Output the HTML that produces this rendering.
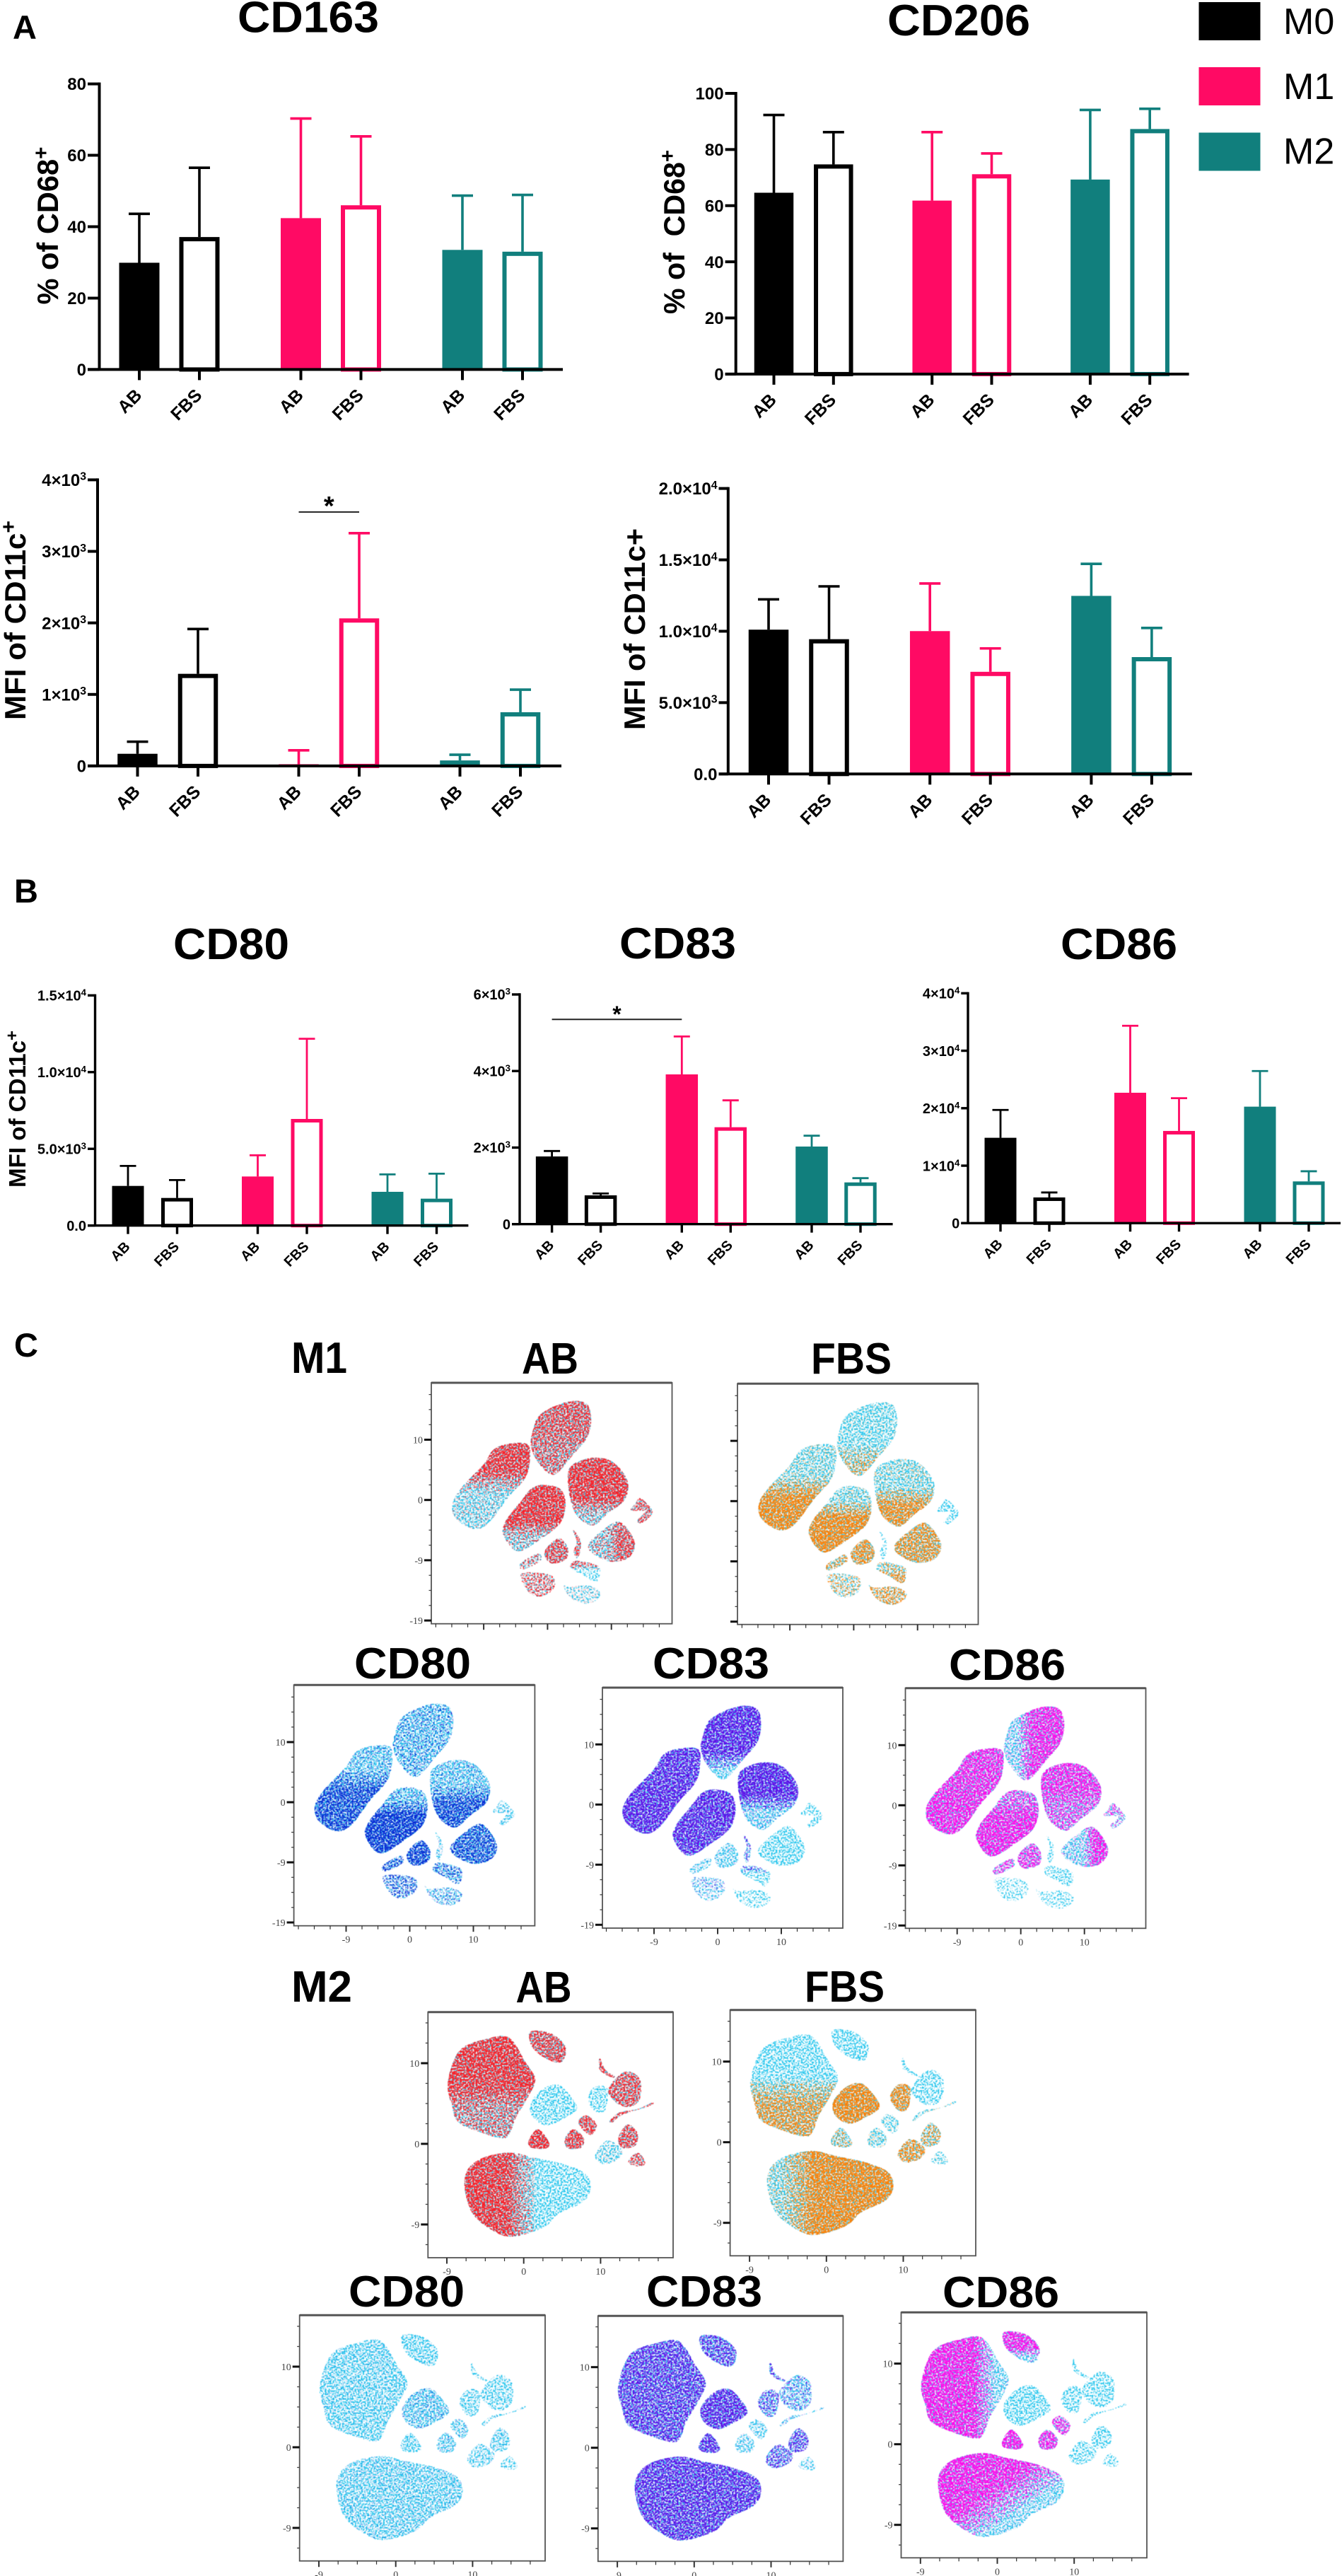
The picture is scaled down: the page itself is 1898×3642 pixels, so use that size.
<!DOCTYPE html>
<html lang="en">
<head>
<meta charset="utf-8">
<title>Macrophage marker expression, AB vs FBS</title>
<style>
html,body{margin:0;padding:0;background:#fff}
svg{display:block}
text{font-family:"Liberation Sans",Arial,sans-serif}
.big{font-weight:700;font-size:62px;fill:#000}
.letter{font-weight:700;font-size:47px;fill:#000}
.ytitle{font-weight:700;fill:#000}
.legend-label{font-size:52px;fill:#000}
</style>
</head>
<body>
<svg id="figure" xmlns="http://www.w3.org/2000/svg" width="1898" height="3642" viewBox="0 0 1898 3642">
<defs></defs>
<rect x="0" y="0" width="1898" height="3642" fill="#fff"/>

<text class="letter" x="18" y="55">A</text>
<text class="letter" x="20" y="1276">B</text>
<text class="letter" x="20" y="1918">C</text>

<text class="big" x="336" y="45.5" textLength="200" lengthAdjust="spacingAndGlyphs">CD163</text>
<text class="big" x="1255" y="50" textLength="202" lengthAdjust="spacingAndGlyphs">CD206</text>
<text class="big" x="245" y="1356" textLength="164" lengthAdjust="spacingAndGlyphs">CD80</text>
<text class="big" x="876" y="1355" textLength="165" lengthAdjust="spacingAndGlyphs">CD83</text>
<text class="big" x="1500" y="1356" textLength="165" lengthAdjust="spacingAndGlyphs">CD86</text>

<g>
<rect x="1695.5" y="3" width="87" height="54" fill="#000"/>
<rect x="1695.5" y="95" width="87" height="54" fill="#ff0a64"/>
<rect x="1695.5" y="187.5" width="87" height="54" fill="#117f7d"/>
<text class="legend-label" x="1815" y="48">M0</text>
<text class="legend-label" x="1815" y="140">M1</text>
<text class="legend-label" x="1815" y="231.5">M2</text>
</g>

<text class="ytitle" font-size="42" transform="translate(82,430.5) rotate(-90)" textLength="223" lengthAdjust="spacingAndGlyphs">% of CD68<tspan dy="-14" font-size="30">+</tspan></text>
<text class="ytitle" font-size="42" transform="translate(968,444) rotate(-90)" textLength="232" lengthAdjust="spacingAndGlyphs">% of &#160;CD68<tspan dy="-14" font-size="30">+</tspan></text>
<text class="ytitle" font-size="42" transform="translate(36,1018) rotate(-90)" textLength="282" lengthAdjust="spacingAndGlyphs">MFI of CD11c<tspan dy="-14" font-size="30">+</tspan></text>
<text class="ytitle" font-size="42" transform="translate(912,1032) rotate(-90)" textLength="285" lengthAdjust="spacingAndGlyphs">MFI of CD11c+</text>
<text class="ytitle" font-size="33" transform="translate(36,1679) rotate(-90)" textLength="222" lengthAdjust="spacingAndGlyphs">MFI of CD11c<tspan dy="-11" font-size="24">+</tspan></text>

<text class="big" x="412" y="1941" textLength="79" lengthAdjust="spacingAndGlyphs">M1</text>
<text class="big" x="738" y="1942" textLength="80" lengthAdjust="spacingAndGlyphs">AB</text>
<text class="big" x="1147" y="1942" textLength="114" lengthAdjust="spacingAndGlyphs">FBS</text>
<text class="big" x="501" y="2373" textLength="165" lengthAdjust="spacingAndGlyphs">CD80</text>
<text class="big" x="923" y="2373" textLength="165" lengthAdjust="spacingAndGlyphs">CD83</text>
<text class="big" x="1342" y="2375" textLength="165" lengthAdjust="spacingAndGlyphs">CD86</text>
<text class="big" x="412" y="2830" textLength="86" lengthAdjust="spacingAndGlyphs">M2</text>
<text class="big" x="729.5" y="2831" textLength="79" lengthAdjust="spacingAndGlyphs">AB</text>
<text class="big" x="1138" y="2830" textLength="113" lengthAdjust="spacingAndGlyphs">FBS</text>
<text class="big" x="493" y="3261" textLength="164" lengthAdjust="spacingAndGlyphs">CD80</text>
<text class="big" x="914" y="3261" textLength="164" lengthAdjust="spacingAndGlyphs">CD83</text>
<text class="big" x="1333" y="3262" textLength="165" lengthAdjust="spacingAndGlyphs">CD86</text>
</svg>

<script>
// ---------- bar chart data ----------
const categories = ["AB","FBS","AB","FBS","AB","FBS"];

const cd163Means = [29.9,37.1,42.4,46,33.5,33];
const cd163Upper = [43.6,56.5,70.3,65.3,48.7,48.9];
const cd163Ticks = [0,20,40,60,80];
const cd163Labels = ["0","20","40","60","80"];

const cd206Means = [64.6,74.7,61.8,71.2,69.3,87.3];
const cd206Upper = [92.3,86.2,86.2,78.6,94.1,94.5];
const cd206Ticks = [0,20,40,60,80,100];
const cd206Labels = ["0","20","40","60","80","100"];

const cd11cLeftMeans = [170,1288,24,2063,77,751];
const cd11cLeftUpper = [339,1914,218,3254,157,1066];
const cd11cLeftTicks = [0,1000,2000,3000,4000];
const cd11cLeftLabels = ["0","1×10^3","2×10^3","3×10^3","4×10^3"];

const cd11cRightMeans = [10110,9443,10009,7158,12476,8189];
const cd11cRightUpper = [12233,13143,13345,8796,14720,10231];
const cd11cRightTicks = [0,5000,10000,15000,20000];
const cd11cRightLabels = ["0.0","5.0×10^3","1.0×10^4","1.5×10^4","2.0×10^4"];

const cd80Means = [2582,1798,3197,6947,2198,1752];
const cd80Upper = [3888,2966,4580,12173,3335,3381];
const cd80Ticks = [0,5000,10000,15000];
const cd80Labels = ["0.0","5.0×10^3","1.0×10^4","1.5×10^4"];

const cd83Means = [1768,752,3912,2532,2027,1090];
const cd83Upper = [1910,801,4903,3234,2310,1201];
const cd83Ticks = [0,2000,4000,6000];
const cd83Labels = ["0","2×10^3","4×10^3","6×10^3"];

const cd86Means = [14853,4472,22690,16043,20269,7262];
const cd86Upper = [19694,5334,34342,21746,26464,9027];
const cd86Ticks = [0,10000,20000,30000,40000];
const cd86Labels = ["0","1×10^4","2×10^4","3×10^4","4×10^4"];

// ---------- t-SNE cluster data (outlines in t-SNE axis units) ----------
const m1Clusters = [
[[2.8,16.2],[5.9,16.1],[6.8,13.8],[6.3,10.6],[4,7.5],[1,4.2],[-1.5,6.3],[-2.6,9.1],[-2.3,11.4],[-1.1,14.2]],
[[-6.1,9.3],[-3,9.1],[-2.9,5.6],[-3.8,3.2],[-6.1,.5],[-9.2,-3.8],[-11.6,-4.8],[-14.3,-3.1],[-14.9,-.7],[-13.5,2],[-10,5.9],[-8.5,8.3]],
[[7.1,7],[10.2,6.3],[12.5,3.2],[12.1,.1],[9.4,-2.3],[7.1,-4.2],[4.7,-2.7],[3.6,.1],[3.2,4],[4,5.9]],
[[-.7,2.5],[2,1.8],[2.8,-.7],[2,-3.8],[-.7,-6.2],[-4.6,-8.5],[-6.9,-5.8],[-6.5,-3.4],[-4.2,-.3],[-2.6,1.8]],
[[11,-3.6],[12.9,-5.4],[13.7,-7.7],[12.5,-9.7],[9.8,-10.2],[7.1,-8.9],[6.4,-7.4],[8.2,-5.4]],
[[2,-6.4],[3.2,-8.1],[2.8,-9.9],[.5,-10.5],[-.5,-8.9],[.5,-7.2]],
[[14.5,.3],[16,-1.1],[16.4,-2.3],[14.8,-3.8],[14.1,-3.4],[15.2,-1.9],[13.1,-1.7],[13.7,-.7]],
[[4,-5],[5.1,-6.6],[5.1,-8.5],[4.6,-9.7],[4.1,-8.5],[4.6,-7]],
[[-1.5,-8.9],[-1.1,-10.1],[-3.8,-11.5],[-4.2,-10.5]],
[[4.4,-10.1],[7.8,-10.9],[8.2,-12.4],[7.5,-13.6],[5.5,-12.4],[3.6,-11.3]],
[[-4.2,-12.4],[-1.5,-12.1],[.9,-12.8],[.9,-14.8],[-1.1,-16],[-3,-15.2]],
[[3.2,-14.4],[6.3,-14.2],[8.2,-15.2],[7.8,-16.5],[5.9,-17.2],[3.6,-16.2],[2.4,-14]]
];
const m1Density = [1,1,1,1,1,.95,.8,.75,.8,.8,.6,.65];

const m2Clusters = [
[[-5.2,12.9],[-2,13.2],[.3,10],[1.5,8],[.6,5.9],[-1,3.3],[-1.7,1.5],[-2.6,.7],[-5.2,1.3],[-8.5,2.7],[-9.4,5],[-9.9,7.3],[-9.1,10.3],[-7.8,12]],
[[.9,13.9],[3.5,13.7],[5.4,12.1],[5.1,10.3],[3.8,10.2],[1.9,11.2],[.9,12.4]],
[[2.5,6.8],[4.5,7.3],[6.1,5.9],[6.9,4.3],[5.1,3.1],[3,2.3],[1.2,3.3],[.9,5]],
[[9.3,7.1],[10.9,6.8],[10.6,4.2],[9.3,4],[8.3,5.6]],
[[13.5,9],[15.1,8],[15.1,5.6],[13.8,4.6],[12.2,5],[11,6.5],[11.9,8]],
[[9.9,10.6],[10.6,9.2],[11.9,8.3],[11.3,8.3],[9.9,9.2]],
[[1.9,1.8],[3.3,.1],[2.8,-.6],[.9,-.4],[.7,.5]],
[[6.5,1.8],[7.8,.7],[7.4,-.5],[5.7,-.5],[5.4,.7]],
[[8.3,3.5],[9.5,2.3],[8.7,1.1],[7.4,2.1],[7.2,3]],
[[10.9,.4],[12.8,-.8],[12.2,-2],[10.3,-2.5],[9.3,-1.4]],
[[13.5,2.4],[14.8,1.3],[14.5,-.2],[12.8,-.5],[12.3,.7]],
[[14.8,-1.1],[15.8,-2.3],[15.1,-2.8],[13.6,-2.3]],
[[16.7,5.1],[16.4,4.7],[12.8,3.6],[11.6,2.7],[11.2,2.9],[12.5,3.9],[14.8,4.3]],
[[-1.7,-1.1],[1.2,-1.7],[5.1,-2.5],[8,-3.7],[8.7,-5.5],[7.7,-7.2],[4.5,-8.7],[2.5,-10.4],[-1.7,-11.5],[-4.6,-10.4],[-6.8,-8.4],[-7.7,-5.2],[-7.2,-3.1],[-5.2,-1.7]]
];
const m2Density = [1,1,1,.9,.9,.9,1,.9,.85,.85,.9,.7,.8,1];

// marker-positive share per cluster: [share at start, share at end, split position, direction code]
const m1AbShares = [[.8,.65,.5,0],[.98,.1,.45,0],[1,.2,.72,0],[1,.2,.68,0],[.3,.8,.55,1],[.8,.8,.5,0],[.85,.85,.5,0],[.9,.9,.5,0],[.5,.5,.5,0],[.8,0,.3,0],[.85,.85,.5,0],[.1,.1,.5,0]];
const m1FbsShares = [[.05,.4,.7,0],[.1,1,.5,0],[.1,.9,.55,0],[.1,1,.35,0],[.75,.75,.5,0],[.85,.85,.5,0],[0,0,.5,0],[0,0,.5,0],[.6,.6,.5,0],[.3,.95,.5,0],[.4,.4,.5,0],[.9,.9,.5,0]];
const m1Cd80Shares = [[.2,.2,.5,0],[.15,.85,.4,0],[.15,.85,.5,0],[.2,1,.3,0],[.75,.75,.5,0],[.9,.9,.5,0],[.05,.05,.5,0],[.1,.1,.5,0],[.75,.75,.5,0],[.5,.5,.5,0],[.75,.75,.5,0],[.25,.25,.5,0]];
const m1Cd83Shares = [[.95,.05,.75,0],[.9,.95,.5,0],[1,.1,.6,0],[.95,.9,.5,0],[0,0,.5,0],[.05,.05,.5,0],[0,0,.5,0],[.6,.3,.5,0],[.05,.05,.5,0],[.3,0,.3,0],[.2,.1,.5,0],[0,0,.5,0]];
const m1Cd86Shares = [[.1,.95,.35,1],[.9,.95,.5,0],[.9,.65,.5,0],[.65,1,.3,0],[.1,.95,.6,1],[.8,.8,.5,0],[.6,.2,.5,0],[0,0,.5,0],[.75,.75,.5,0],[0,0,.5,0],[0,0,.5,0],[0,0,.5,0]];

const m2AbShares = [[1,.55,.6,0],[.8,.8,.5,0],[0,0,.5,0],[0,0,.5,0],[.85,.85,.5,0],[.95,.95,.5,0],[1,1,.5,0],[.95,.95,.5,0],[.95,.95,.5,0],[.05,.05,.5,0],[.85,.85,.5,0],[.95,.95,.5,0],[.95,.95,.5,0],[1,0,.45,1]];
const m2FbsShares = [[0,.75,.55,0],[0,0,.5,0],[1,1,.5,0],[.95,.95,.5,0],[0,0,.5,0],[0,0,.5,0],[.3,.3,.5,0],[.1,.1,.5,0],[.05,.05,.5,0],[.85,.85,.5,0],[.5,.5,.5,0],[.05,.05,.5,0],[.1,.1,.5,0],[.15,1,.25,1]];
const m2Cd80Shares = [[.05,.05,.5,0],[.03,.03,.5,0],[.12,.12,.5,0],[.03,.03,.5,0],[.03,.03,.5,0],[.02,.02,.5,0],[.03,.03,.5,0],[.1,.1,.5,0],[.1,.1,.5,0],[.05,.05,.5,0],[.05,.05,.5,0],[.03,.03,.5,0],[.03,.03,.5,0],[.07,.07,.5,0]];
const m2Cd83Shares = [[.78,.78,.5,0],[.65,.65,.5,0],[.88,.88,.5,0],[.5,.5,.5,0],[.2,.2,.5,0],[.5,.5,.5,0],[.85,.85,.5,0],[.05,.05,.5,0],[.05,.05,.5,0],[.65,.65,.5,0],[.7,.7,.5,0],[.05,.05,.5,0],[.1,.1,.5,0],[.85,.85,.5,0]];
const m2Cd86Shares = [[1,.05,.72,1],[.95,.1,.65,0],[0,0,.5,0],[0,0,.5,0],[0,0,.5,0],[0,0,.5,0],[1,1,.5,0],[.95,.95,.5,0],[.85,.85,.5,0],[0,0,.5,0],[0,0,.5,0],[0,0,.5,0],[0,0,.5,0],[1,.05,.55,2]];

const tsneXTicks = [-10,0,10];
const tsneXLabels = ["-9","0","10"];
const m1YTicks = [10,0,-10,-20];
const m1YLabels = ["10","0","-9","-19"];
const m2YTicks = [10,0,-10];
const m2YLabels = ["10","0","-9"];

// ---------- drawing ----------
const NS = "http://www.w3.org/2000/svg";
const fig = document.getElementById("figure");
const defs = fig.querySelector("defs");
const GROUP_COLORS = ["#000000","#000000","#ff0a64","#ff0a64","#117f7d","#117f7d"];
const POSITIVE_MAX = 0.74, NEGATIVE_COVER = 0.48;

function mk(tag, attrs, parent) {
  const el = document.createElementNS(NS, tag);
  for (const k in attrs) el.setAttribute(k, attrs[k]);
  parent.appendChild(el);
  return el;
}

// Dithers a layer: the alpha of the source picks how many speckles survive.
function makeSpeck(id, color, seed, matrix) {
  const f = mk("filter", {id: id, x: "-5%", y: "-5%", width: "110%", height: "110%", "color-interpolation-filters": "sRGB"}, defs);
  mk("feTurbulence", {type: "fractalNoise", baseFrequency: "0.45", numOctaves: 2, seed: seed, result: "t"}, f);
  mk("feColorMatrix", {in: "t", type: "matrix", values: "0 0 0 0 0 0 0 0 0 0 0 0 0 0 0 " + matrix, result: "n"}, f);
  mk("feComposite", {in: "SourceAlpha", in2: "n", operator: "arithmetic", k1: 0, k2: 1, k3: 1, k4: -1, result: "sum"}, f);
  const ct = mk("feComponentTransfer", {in: "sum", result: "mask"}, f);
  mk("feFuncA", {type: "linear", slope: 7}, ct);
  mk("feFlood", {"flood-color": color, result: "c"}, f);
  mk("feComposite", {in: "c", in2: "mask", operator: "in", result: "dots"}, f);
  mk("feGaussianBlur", {in: "dots", stdDeviation: 0.4}, f);
}
makeSpeck("speck-cyan", "#1cc3ec", 4, "0 3.4 0 0 -1.2");
makeSpeck("speck-red", "#f81f27", 11, "3.4 0 0 0 -1.2");
makeSpeck("speck-orange", "#fb8005", 11, "3.4 0 0 0 -1.2");
makeSpeck("speck-blue", "#0429d4", 11, "3.4 0 0 0 -1.2");
makeSpeck("speck-purple", "#5a0ce8", 11, "3.4 0 0 0 -1.2");
makeSpeck("speck-magenta", "#ff08ea", 11, "3.4 0 0 0 -1.2");

function drawBarChart(cfg, means, upper, ticks, labels) {
  const root = mk("g", {}, fig);
  
  
  const y = v => cfg.yBase - v / ticks[ticks.length - 1] * (cfg.yBase - cfg.yTop);
  const x = i => cfg.x0 + (i % 2) * cfg.gap + Math.floor(i / 2) * cfg.step;
  means.forEach((m, i) => {
    const color = GROUP_COLORS[i], c = x(i);
    const stem = mk("line", {x1: c, x2: c, y1: y(m), y2: y(upper[i]), stroke: color, "stroke-width": cfg.errW}, root);
    
    
    const cap = mk("line", {x1: c - cfg.capW / 2, x2: c + cfg.capW / 2, y1: y(upper[i]), y2: y(upper[i]), stroke: color, "stroke-width": cfg.errW}, root);
    
    
    const s = cfg.outline;
    const bar = (i % 2 === 0)
      ? mk("rect", {x: c - cfg.barW / 2, y: y(m), width: cfg.barW, height: Math.max(cfg.yBase - y(m), 0), fill: color}, root)
      : mk("rect", {x: c - cfg.barW / 2 + s / 2, y: y(m) + s / 2, width: cfg.barW - s, height: Math.max(cfg.yBase - y(m) - s / 2, 0), fill: "#fff", stroke: color, "stroke-width": s}, root);
    
    
    const tick = mk("line", {x1: c, x2: c, y1: cfg.yBase, y2: cfg.yBase + cfg.tickLen, stroke: "#000", "stroke-width": cfg.axisW}, root);
    
    
    const tx = c + cfg.catDx, ty = cfg.yBase + cfg.catDy;
    const lab = mk("text", {x: tx, y: ty, "text-anchor": "end", "font-size": cfg.catFont, "font-weight": 700, transform: "rotate(-45 " + tx + " " + ty + ")"}, root);
    lab.textContent = categories[i];
    
    
  });
  const xAxis = mk("line", {x1: cfg.left, x2: cfg.right, y1: cfg.yBase, y2: cfg.yBase, stroke: "#000", "stroke-width": cfg.axisW}, root);
  
  
  const yAxis = mk("line", {x1: cfg.axisX, x2: cfg.axisX, y1: cfg.yTop - cfg.axisW / 2, y2: cfg.yBase, stroke: "#000", "stroke-width": cfg.axisW}, root);
  
  
  ticks.forEach((t, i) => {
    const tick = mk("line", {x1: cfg.left, x2: cfg.axisX, y1: y(t), y2: y(t), stroke: "#000", "stroke-width": cfg.axisW}, root);
    
    
    const parts = labels[i].split("^");
    const lab = mk("text", {x: cfg.left - 2, y: y(t) + cfg.labFont * 0.36, "text-anchor": "end", "font-size": cfg.labFont, "font-weight": 700}, root);
    
    
    const main = mk("tspan", {}, lab);
    main.textContent = parts[0];
    if (parts[1]) {
      const sup = mk("tspan", {dy: -cfg.labFont * 0.35, "font-size": cfg.labFont * 0.66}, lab);
      sup.textContent = parts[1];
    }
  });
  return {x, y, root};
}

function drawSignificance(chart, i, j, level, starBaseline, fontSize) {
  const a = chart.x(i), b = chart.x(j), yy = chart.y(level);
  const line = mk("line", {x1: a, x2: b, y1: yy, y2: yy, stroke: "#222", "stroke-width": 2}, chart.root);
  
  
  const star = mk("text", {x: (a + b) / 2, y: yy + starBaseline, "text-anchor": "middle", "font-size": fontSize, "font-weight": 700}, chart.root);
  star.textContent = "*";
  
  
}

const big = {barW: 57, outline: 6, errW: 3.6, capW: 30, axisW: 4, tickLen: 15, catDx: 5, catDy: 38, catFont: 25, labFont: 24};
const small = {barW: 45, outline: 5, errW: 2.8, capW: 23, axisW: 3.4, tickLen: 12, catDx: 4, catDy: 31, catFont: 20, labFont: 20};

drawBarChart(Object.assign({}, big, {x0: 197, gap: 85, step: 228.5, yBase: 522.4, yTop: 118.6, axisX: 140.5, left: 124, right: 796}), cd163Means, cd163Upper, cd163Ticks, cd163Labels);
drawBarChart(Object.assign({}, big, {x0: 1094.5, gap: 84.3, step: 223.7, barW: 55.5, yBase: 528.9, yTop: 132, axisX: 1040.7, left: 1025.6, right: 1681.6}), cd206Means, cd206Upper, cd206Ticks, cd206Labels);
const cd11cLeft = drawBarChart(Object.assign({}, big, {x0: 194.5, gap: 85.5, step: 228, barW: 56.5, yBase: 1082.9, yTop: 678.4, axisX: 138, left: 124, right: 794}), cd11cLeftMeans, cd11cLeftUpper, cd11cLeftTicks, cd11cLeftLabels);
drawSignificance(cd11cLeft, 2, 3, 3550, 4, 38);
drawBarChart(Object.assign({}, big, {x0: 1087, gap: 85.5, step: 228.2, barW: 56.5, yBase: 1094.3, yTop: 690.6, axisX: 1029.8, left: 1016.5, right: 1685.8}), cd11cRightMeans, cd11cRightUpper, cd11cRightTicks, cd11cRightLabels);
drawBarChart(Object.assign({}, small, {x0: 181, gap: 69.5, step: 183.5, yBase: 1732.7, yTop: 1407.3, axisX: 134.5, left: 124, right: 662.4}), cd80Means, cd80Upper, cd80Ticks, cd80Labels);
const cd83Chart = drawBarChart(Object.assign({}, small, {x0: 780.6, gap: 69, step: 183.7, barW: 45.5, yBase: 1730.7, yTop: 1406, axisX: 735, left: 724, right: 1262.6}), cd83Means, cd83Upper, cd83Ticks, cd83Labels);
drawSignificance(cd83Chart, 0, 2, 5348, 3.5, 32);
drawBarChart(Object.assign({}, small, {x0: 1415, gap: 69, step: 183.5, yBase: 1729.3, yTop: 1404.3, axisX: 1369, left: 1359.3, right: 1896}), cd86Means, cd86Upper, cd86Ticks, cd86Labels);

function smoothPath(pts) {
  const n = pts.length;
  let d = "M" + pts[0][0].toFixed(1) + " " + pts[0][1].toFixed(1);
  for (let i = 0; i < n; i++) {
    const p0 = pts[(i - 1 + n) % n], p1 = pts[i], p2 = pts[(i + 1) % n], p3 = pts[(i + 2) % n];
    d += "C" + (p1[0] + (p2[0] - p0[0]) / 6).toFixed(1) + " " + (p1[1] + (p2[1] - p0[1]) / 6).toFixed(1) + " "
       + (p2[0] - (p3[0] - p1[0]) / 6).toFixed(1) + " " + (p2[1] - (p3[1] - p1[1]) / 6).toFixed(1) + " "
       + p2[0].toFixed(1) + " " + p2[1].toFixed(1);
  }
  return d + "Z";
}

let gradCount = 0;
function drawScatter(p, clusters, density, shares, speckId, color, yTicks, yLabels, showX, showY) {
  const root = mk("g", {}, fig);
  
  
  const x = u => p.x0 + u * p.sx;
  const y = u => p.y0 - u * p.sy;
  const baseLayer = mk("g", {filter: "url(#speck-cyan)"}, root);
  
  
  const posLayer = mk("g", {filter: "url(#" + speckId + ")"}, root);
  
  
  const dirs = [[0,0,0,1],[0,0,1,0],[0,0,1,1],[1,0,0,1]];
  clusters.forEach((outline, i) => {
    const d = smoothPath(outline.map(v => [x(v[0]), y(v[1])]));
    const negative = mk("path", {d: d, fill: "#000", "fill-opacity": NEGATIVE_COVER * density[i]}, baseLayer);
    
    
    const s = shares[i], dir = dirs[s[3]], id = "g" + (gradCount++);
    const grad = mk("linearGradient", {id: id, x1: dir[0], y1: dir[1], x2: dir[2], y2: dir[3]}, defs);
    [[0, s[0]], [Math.max(s[2] - .12, 0), s[0]], [Math.min(s[2] + .12, 1), s[1]], [1, s[1]]].forEach(st => {
      mk("stop", {offset: st[0], "stop-color": color, "stop-opacity": st[1] * POSITIVE_MAX}, grad);
    });
    const positive = mk("path", {d: d, fill: "url(#" + id + ")", "fill-opacity": density[i]}, posLayer);
    
    
  });
  const frame = mk("rect", {x: p.left, y: p.top, width: p.right - p.left, height: p.bottom - p.top, fill: "none", stroke: "#555", "stroke-width": 1.8}, root);
  
  
  const topEdge = mk("line", {x1: p.left, x2: p.right, y1: p.top, y2: p.top, stroke: "#555", "stroke-width": 3}, root);
  
  
  for (let u = -40; u <= 40; u += 2.5) {
    const xx = x(u), major = u % 10 === 0;
    if (xx > p.left + 2 && xx < p.right - 2 && (major ? tsneXTicks.includes(u) : true)) {
      const t = mk("line", {x1: xx, x2: xx, y1: p.bottom, y2: p.bottom + (major ? 8.5 : 5), stroke: "#333", "stroke-width": major ? 2 : 1.2}, root);
      
      
    }
    const yy = y(u);
    if (yy > p.top + 12 && yy < p.bottom - 2) {
      const isMajor = major && yTicks.includes(u);
      const t = mk("line", {x1: p.left - (isMajor ? 10 : 3.5), x2: p.left, y1: yy, y2: yy, stroke: isMajor ? "#111" : "#444", "stroke-width": isMajor ? 3 : 1.3}, root);
      
      
    }
  }
  if (showX) tsneXTicks.forEach((u, i) => {
    const lab = mk("text", {x: x(u), y: p.bottom + 24, "text-anchor": "middle", "font-size": 14, fill: "#444", style: "font-family:'Liberation Serif',serif"}, root);
    lab.textContent = tsneXLabels[i];
    
    
  });
  if (showY) yTicks.forEach((u, i) => {
    const lab = mk("text", {x: p.left - 12, y: y(u) + 5, "text-anchor": "end", "font-size": 14, fill: "#444", style: "font-family:'Liberation Serif',serif"}, root);
    lab.textContent = yLabels[i];
    
    
  });
}

drawScatter({left: 610, right: 950.5, top: 1955, bottom: 2295.7, x0: 774.4, y0: 2120.7, sx: 9.03, sy: 8.52}, m1Clusters, m1Density, m1AbShares, "speck-red", "#000", m1YTicks, m1YLabels, false, true);
drawScatter({left: 1043, right: 1383.5, top: 1956.3, bottom: 2296.7, x0: 1207.4, y0: 2122.3, sx: 9.03, sy: 8.52}, m1Clusters, m1Density, m1FbsShares, "speck-orange", "#000", m1YTicks, m1YLabels, false, false);
drawScatter({left: 415.6, right: 756.4, top: 2382.3, bottom: 2722.7, x0: 579.5, y0: 2548, sx: 9, sy: 8.5}, m1Clusters, m1Density, m1Cd80Shares, "speck-blue", "#000", m1YTicks, m1YLabels, true, true);
drawScatter({left: 852, right: 1192, top: 2386, bottom: 2726, x0: 1015, y0: 2551.3, sx: 9, sy: 8.5}, m1Clusters, m1Density, m1Cd83Shares, "speck-purple", "#000", m1YTicks, m1YLabels, true, true);
drawScatter({left: 1280.5, right: 1620.5, top: 2386.7, bottom: 2726.3, x0: 1443.7, y0: 2552.3, sx: 9, sy: 8.5}, m1Clusters, m1Density, m1Cd86Shares, "speck-magenta", "#000", m1YTicks, m1YLabels, true, true);

drawScatter({left: 605.3, right: 952, top: 2844.7, bottom: 3192, x0: 740.7, y0: 3031, sx: 10.87, sy: 11.4}, m2Clusters, m2Density, m2AbShares, "speck-red", "#000", m2YTicks, m2YLabels, true, true);
drawScatter({left: 1032.6, right: 1380, top: 2841.7, bottom: 3189.3, x0: 1168.8, y0: 3028.7, sx: 10.87, sy: 11.4}, m2Clusters, m2Density, m2FbsShares, "speck-orange", "#000", m2YTicks, m2YLabels, true, true);
drawScatter({left: 423.7, right: 771, top: 3273.3, bottom: 3620.7, x0: 559.7, y0: 3460, sx: 10.87, sy: 11.4}, m2Clusters, m2Density, m2Cd80Shares, "speck-blue", "#000", m2YTicks, m2YLabels, true, true);
drawScatter({left: 845.8, right: 1192.4, top: 3274.3, bottom: 3621.3, x0: 981.8, y0: 3460.7, sx: 10.87, sy: 11.4}, m2Clusters, m2Density, m2Cd83Shares, "speck-purple", "#000", m2YTicks, m2YLabels, true, true);
drawScatter({left: 1274.5, right: 1622, top: 3269.3, bottom: 3616.3, x0: 1410.5, y0: 3455.7, sx: 10.87, sy: 11.4}, m2Clusters, m2Density, m2Cd86Shares, "speck-magenta", "#000", m2YTicks, m2YLabels, true, true);
</script>
</body>
</html>
